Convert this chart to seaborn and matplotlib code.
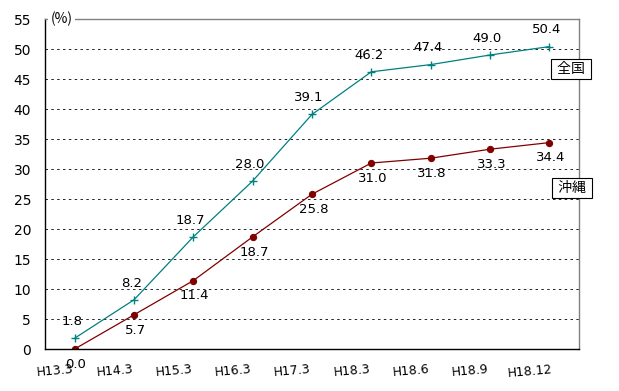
import matplotlib
matplotlib.use('Agg')
import matplotlib.pyplot as plt
import seaborn as sns
import numpy as np
import pandas as pd

# data
periods = ['H13.3', 'H14.3', 'H15.3', 'H16.3', 'H17.3', 'H18.3', 'H18.6', 'H18.9', 'H18.12']
zenkoku = [1.8, 8.2, 18.7, 28.0, 39.1, 46.2, 47.4, 49.0, 50.4]
okinawa = [0.0, 5.7, 11.4, 18.7, 25.8, 31.0, 31.8, 33.3, 34.4]
series_names = ['全国', '沖縄']
yticks = list(range(0, 60, 5))

sns.set_style('white')
plt.rcParams['font.family'] = ['Noto Sans CJK JP', 'DejaVu Sans']
plt.rcParams['text.color'] = 'black'
plt.rcParams['xtick.color'] = 'black'
plt.rcParams['ytick.color'] = 'black'

df = pd.DataFrame({
    'x': list(range(len(periods))) * 2,
    'value': zenkoku + okinawa,
    'series': [series_names[0]] * len(zenkoku) + [series_names[1]] * len(okinawa),
})

fig = plt.figure(figsize=(6.19, 3.91), dpi=100)
ax = fig.add_axes([0.0727, 0.1074, 0.8627, 0.844])

teal = '#008080'
maroon = '#800000'

sns.lineplot(data=df[df.series == '全国'], x='x', y='value', color=teal, marker='+',
             markersize=6, markeredgewidth=1.0, markeredgecolor=teal, linewidth=0.9,
             ax=ax, legend=False)
sns.lineplot(data=df[df.series == '沖縄'], x='x', y='value', color=maroon, marker='o',
             markersize=4.5, markeredgecolor=maroon, linewidth=0.9, ax=ax, legend=False)

# data labels
for i, v in enumerate(zenkoku):
    ax.annotate(f'{v:.1f}', (i, v), xytext=(-2, 12), textcoords='offset points',
                ha='center', va='center', fontsize=9.5, family='DejaVu Sans')
for i, v in enumerate(okinawa):
    ax.annotate(f'{v:.1f}', (i, v), xytext=(1, -11), textcoords='offset points',
                ha='center', va='center', fontsize=9.5, family='DejaVu Sans')

ax.set_xlim(-0.5, len(periods) - 0.5)
ax.set_ylim(0, 55)
ax.set_yticks(yticks)
ax.tick_params(axis='y', length=2, color='black', labelsize=10, pad=8)
for lab in ax.get_yticklabels():
    lab.set_family('DejaVu Sans')

# tick marks at the category boundaries, labels slightly right of them
ax.set_xticks(np.arange(len(periods) + 1) - 0.5, minor=True)
ax.set_xticks(np.arange(len(periods)) - 0.33)
ax.set_xticklabels(periods, rotation=5, fontsize=9, family='DejaVu Sans')
ax.tick_params(axis='x', which='major', length=0, pad=10)
ax.tick_params(axis='x', which='minor', direction='inout', length=8, color='black')

for y in yticks[1:-1]:
    ax.axhline(y, color='black', linestyle=(0, (3, 4)), linewidth=0.6, zorder=0)

ax.set_xlabel('')
ax.set_ylabel('')
for side in ['left', 'bottom']:
    ax.spines[side].set_color('black')
    ax.spines[side].set_linewidth(1.0)
for side in ['top', 'right']:
    ax.spines[side].set_color('#808080')
    ax.spines[side].set_linewidth(1.0)

# unit label
ax.text(0.01, 1.0, '(%)', transform=ax.transAxes, ha='left', va='center', fontsize=10,
        bbox=dict(facecolor='white', edgecolor='none', pad=2), clip_on=False)

# series name boxes
box = dict(facecolor='white', edgecolor='black', linewidth=0.8, boxstyle='square,pad=0.2')
ax.text(0.985, 0.848, ' ' + series_names[0] + ' ', transform=ax.transAxes, ha='center',
        va='center', fontsize=10, bbox=box, clip_on=False)
ax.text(0.987, 0.488, ' ' + series_names[1] + ' ', transform=ax.transAxes, ha='center',
        va='center', fontsize=10, bbox=box, clip_on=False)

fig.savefig('out.png', dpi=100)
